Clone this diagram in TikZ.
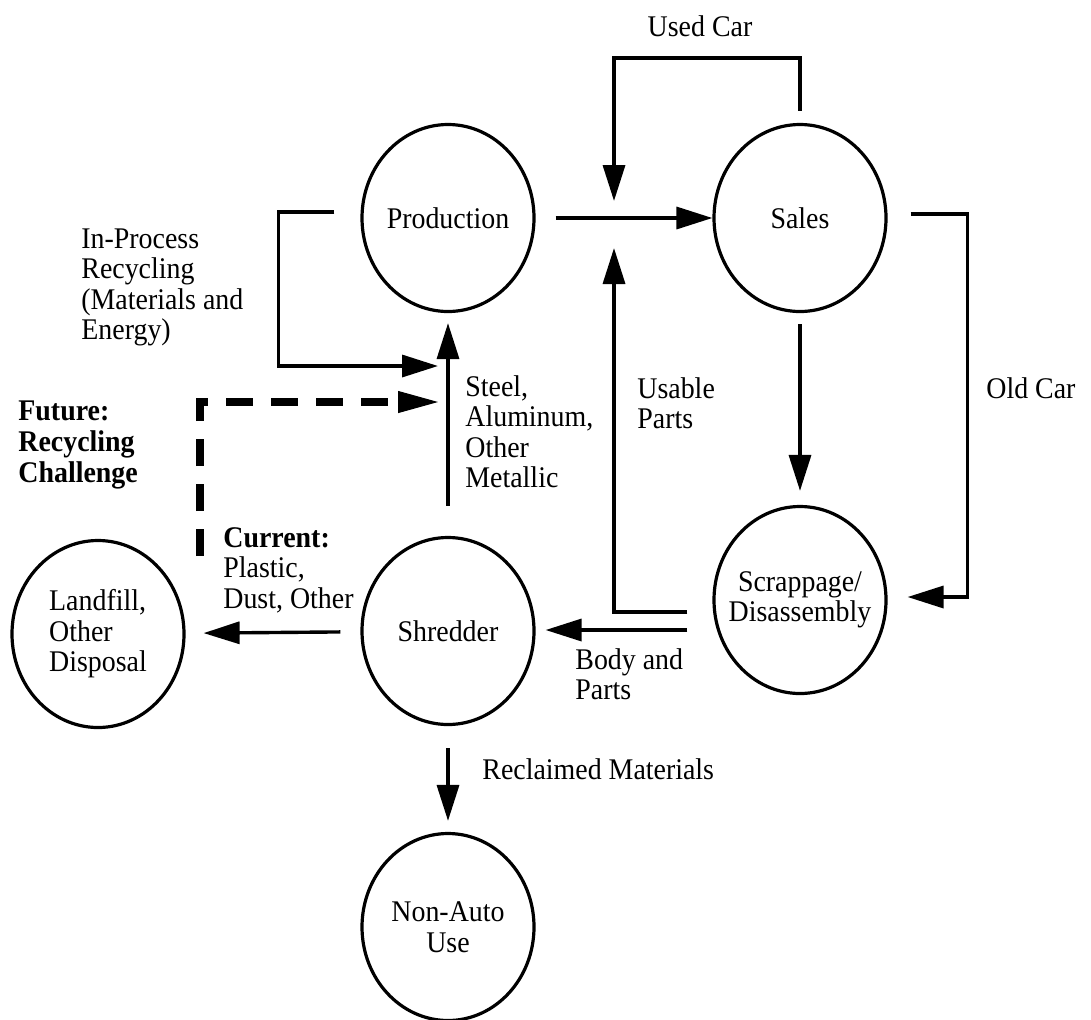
\documentclass[tikz,border=0pt]{standalone}
\usepackage{fontspec}
\setmainfont[FakeStretch=0.93]{Liberation Serif}
\usepackage{tikz}
\usetikzlibrary{positioning, calc}
\usetikzlibrary{shapes.geometric, arrows.meta}
\tikzset{
    stage/.style={ellipse, draw, line width=1.6pt, minimum width=86pt, minimum height=93.5pt, inner sep=-10pt, align=center},
    flow/.style={line width=1.7pt, -{Triangle[length=18pt,width=11pt]}},
    future/.style={line width=4pt, dash pattern=on 13.5pt off 9pt, dash phase=17.5pt, -{Triangle[length=20pt,width=11pt,line width=0.5pt]}},
    lbl/.style={inner sep=0pt, align=left},
}

\begin{document}
\begin{tikzpicture}[x=0.5pt, y=-0.5pt, every node/.style={font=\fontsize{15}{15.25}\selectfont}]
    \useasboundingbox (0,0) rectangle (1091,1019);
    \node[stage] (prod) at (448,218) {Production};
    \node[stage] (sales) at (800,218) {Sales};
    \node[stage] (scrap) at (800,600) {Scrappage/\\Disassembly};
    \node[stage] (shred) at (448,631) {Shredder};
    \node[stage, align=left] (landfill) at (98,634) {Landfill,\\Other\\Disposal};
    \node[stage] (nonauto) at (448,927) {Non-Auto\\Use};
    \coordinate (usedtip) at (614,201);
    \coordinate (usetip) at (614,248);
    \coordinate (inptip) at (438,366);
    \coordinate (futstart) at (200,566);
    \coordinate (futtip) at (438,402);
    \draw[flow, shorten <=10pt] (prod) -- (sales);
    \draw[flow] ([yshift=6pt]sales.north) -- ++(0,-53) -| (usedtip);
    \draw[flow, shorten <=5.5pt, shorten >=7pt] (sales) -- (scrap);
    \draw[flow] ([xshift=11.5pt,yshift=2pt]sales.east) -- ++(57,0) |- ([xshift=10pt,yshift=1.5pt]scrap.east);
    \draw[flow] ([xshift=-12.5pt,yshift=-6pt]scrap.west) -| (usetip);
    \draw[flow, shorten >=5pt] ([xshift=-12.5pt,yshift=-15pt]scrap.west) coordinate (bodystart) -- (bodystart -| shred.east);
    \draw[flow, shorten <=10pt, shorten >=9pt] (shred) -- (landfill);
    \draw[flow, shorten <=15pt, shorten >=5pt] (shred) -- (prod);
    \draw[flow] ([xshift=-13pt,yshift=3pt]prod.west) -- ++(-56,0) |- (inptip);
    \draw[future] (futstart) |- (futtip);
    \draw[flow, shorten <=11pt, shorten >=5.5pt] (shred) -- (nonauto);
    \node[lbl, anchor=base] (usedlbl) at (700,36) {Used Car};
    \node[lbl, anchor=north west] (inplbl) at (81,228) {In-Process\\Recycling\\(Materials and\\Energy)};
    \node[lbl, anchor=north west, font=\fontsize{15}{15.5}\selectfont\bfseries] (futlbl) at (18,400) {Future:\\Recycling\\Challenge};
    \node[lbl, anchor=north west] (steellbl) at (465,375) {Steel,\\Aluminum,\\Other\\Metallic};
    \node[lbl, anchor=north west] (usablelbl) at (637,377) {Usable\\Parts};
    \node[lbl, anchor=base west] (oldlbl) at (986,398) {Old Car};
    \node[lbl, anchor=north west] (bodylbl) at (575,648) {Body and\\Parts};
    \node[lbl, anchor=north west] (curlbl) at (223,527) {\textbf{Current:}\\Plastic,\\Dust, Other};
    \node[lbl, anchor=base west] (reclbl) at (482,779) {Reclaimed Materials};
\end{tikzpicture}
\end{document}
